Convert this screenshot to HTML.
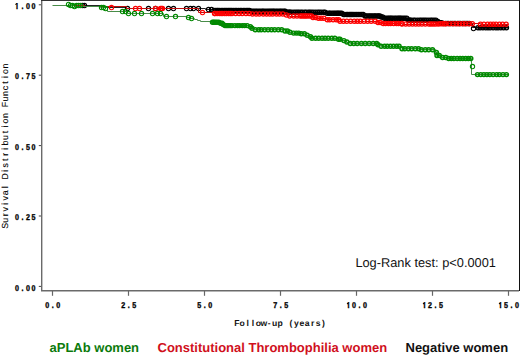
<!DOCTYPE html>
<html><head><meta charset="utf-8"><style>
html,body{margin:0;padding:0;background:#fff;}
body{width:520px;height:355px;overflow:hidden;position:relative;}
svg{position:absolute;left:0;top:0;text-rendering:geometricPrecision;}
.tk{font-family:"Liberation Sans",sans-serif;font-weight:bold;font-size:8.4px;fill:#000;stroke:#000;stroke-width:0.35px;}
.ti{font-family:"Liberation Sans",sans-serif;font-weight:bold;font-size:8.6px;fill:#111;}
.ti2{font-family:"Liberation Sans",sans-serif;font-weight:normal;font-size:8.8px;fill:#000;stroke:#000;stroke-width:0.1px;}
.lg{font-family:"Liberation Sans",sans-serif;font-weight:bold;font-size:13px;}
.lr{font-family:"Liberation Sans",sans-serif;font-size:12.8px;fill:#111;}
</style></head><body>
<svg width="520" height="355" viewBox="0 0 520 355">
<path d="M41.7,0V290.7H519" stroke="#6a6a6a" stroke-width="1.4" fill="none"/><path d="M41,0.5H519.5" stroke="#333" stroke-width="1" fill="none"/><path d="M519.5,0V291" stroke="#111" stroke-width="1" fill="none"/><path d="M38.8,4.80H41" stroke="#444" stroke-width="1"/><text class="tk" x="20.00 26.47 32.94 39.41" y="9.00" text-anchor="middle" transform="scale(0.85,1)">I.00</text><path d="M16.90,3.40l-1.4,1.2" stroke="#000" stroke-width="1.1" fill="none"/><path d="M38.8,75.20H41" stroke="#444" stroke-width="1"/><text class="tk" x="20.00 26.47 32.94 39.41" y="79.40" text-anchor="middle" transform="scale(0.85,1)">0.75</text><path d="M38.8,145.60H41" stroke="#444" stroke-width="1"/><text class="tk" x="20.00 26.47 32.94 39.41" y="149.80" text-anchor="middle" transform="scale(0.85,1)">0.50</text><path d="M38.8,216.00H41" stroke="#444" stroke-width="1"/><text class="tk" x="20.00 26.47 32.94 39.41" y="220.20" text-anchor="middle" transform="scale(0.85,1)">0.25</text><path d="M38.8,286.40H41" stroke="#444" stroke-width="1"/><text class="tk" x="20.00 26.47 32.94 39.41" y="290.60" text-anchor="middle" transform="scale(0.85,1)">0.00</text><path d="M52.5,291V295.8" stroke="#666" stroke-width="1.2"/><text class="tk" x="55.65 62.12 68.59" y="308.40" text-anchor="middle" transform="scale(0.85,1)">0.0</text><path d="M128.5,291V295.8" stroke="#666" stroke-width="1.2"/><text class="tk" x="145.06 151.53 158.00" y="308.40" text-anchor="middle" transform="scale(0.85,1)">2.5</text><path d="M204.5,291V295.8" stroke="#666" stroke-width="1.2"/><text class="tk" x="234.47 240.94 247.41" y="308.40" text-anchor="middle" transform="scale(0.85,1)">5.0</text><path d="M280.5,291V295.8" stroke="#666" stroke-width="1.2"/><text class="tk" x="323.88 330.35 336.82" y="308.40" text-anchor="middle" transform="scale(0.85,1)">7.5</text><path d="M356.5,291V295.8" stroke="#666" stroke-width="1.2"/><text class="tk" x="410.06 416.53 423.00 429.47" y="308.40" text-anchor="middle" transform="scale(0.85,1)">I0.0</text><path d="M348.45,302.80l-1.4,1.2" stroke="#000" stroke-width="1.1" fill="none"/><path d="M432.5,291V295.8" stroke="#666" stroke-width="1.2"/><text class="tk" x="499.47 505.94 512.41 518.88" y="308.40" text-anchor="middle" transform="scale(0.85,1)">I2.5</text><path d="M424.45,302.80l-1.4,1.2" stroke="#000" stroke-width="1.1" fill="none"/><path d="M508.5,291V295.8" stroke="#666" stroke-width="1.2"/><text class="tk" x="588.88 595.35 601.82 608.29" y="308.40" text-anchor="middle" transform="scale(0.85,1)">I5.0</text><path d="M500.45,302.80l-1.4,1.2" stroke="#000" stroke-width="1.1" fill="none"/><text class="ti" x="236.75 242.17 247.59 253.01 258.43 263.85 269.27 274.69 280.11 285.53 290.95 296.37 301.79 307.21 312.63 318.05 323.47" y="325.60" text-anchor="middle">Follow-up (years)</text><g transform="rotate(-90)"><text class="ti2" x="-225.80 -220.29 -214.78 -209.27 -203.76 -198.25 -192.74 -187.23 -181.72 -176.21 -170.70 -165.19 -159.68 -154.17 -148.66 -143.15 -137.64 -132.13 -126.62 -121.11 -115.60 -110.09 -104.58 -99.07 -93.56 -88.05 -82.54 -77.03 -71.52 -66.01" y="7.80" text-anchor="middle">Survival Distribution Function</text></g>
<defs><filter id="bl" x="-5%" y="-50%" width="110%" height="200%"><feGaussianBlur stdDeviation="0.35"/></filter></defs><g filter="url(#bl)"><g stroke="#000" fill="none" stroke-width="1.3"><path d="M66.5,5.5H84.5V5.5H102.5V7.5H126.5V8.5H140.5V8.5H165.5V8.5H205.5V9.5H213.5V10.5H250.5V11.5H286.5V12.5H326.5V13.5H342.5V14.5H364.5V15.5H380.5V16.5H383.5V18.5H407.5V20.5H436.5V21.5H439.5V22.5H442.5V23.5H472.5V27.5H508.5" stroke="#222" stroke-width="1"/><g stroke-width="1.05"><circle cx="82.5" cy="5.5" r="2.15"/><circle cx="84.5" cy="5.5" r="2.15"/><circle cx="127.5" cy="8.5" r="2.15"/><circle cx="148.5" cy="8.5" r="2.15"/><circle cx="155.5" cy="8.5" r="2.15"/><circle cx="168.5" cy="8.5" r="2.15"/><circle cx="173.5" cy="8.5" r="2.15"/><circle cx="186.5" cy="8.5" r="2.15"/><circle cx="190.5" cy="8.5" r="2.15"/><circle cx="193.5" cy="8.5" r="2.15"/><circle cx="198.5" cy="8.5" r="2.15"/><circle cx="208.5" cy="9.5" r="2.15"/><circle cx="211.5" cy="9.5" r="2.15"/><circle cx="473.5" cy="28.5" r="2.15"/></g><g fill="#000" fill-opacity="0.3" stroke-width="1.3"><circle cx="214.0" cy="10.55" r="2.1"/><circle cx="215.6" cy="10.55" r="2.1"/><circle cx="217.0" cy="10.55" r="2.1"/><circle cx="218.1" cy="10.55" r="2.1"/><circle cx="219.5" cy="10.55" r="2.1"/><circle cx="221.2" cy="10.55" r="2.1"/><circle cx="222.7" cy="10.55" r="2.1"/><circle cx="224.2" cy="10.55" r="2.1"/><circle cx="225.5" cy="10.55" r="2.1"/><circle cx="226.9" cy="10.55" r="2.1"/><circle cx="228.3" cy="10.55" r="2.1"/><circle cx="229.5" cy="10.55" r="2.1"/><circle cx="230.8" cy="10.55" r="2.1"/><circle cx="232.0" cy="10.55" r="2.1"/><circle cx="233.8" cy="10.55" r="2.1"/><circle cx="235.3" cy="10.55" r="2.1"/><circle cx="236.8" cy="10.55" r="2.1"/><circle cx="238.5" cy="10.55" r="2.1"/><circle cx="240.2" cy="10.55" r="2.1"/><circle cx="241.5" cy="10.55" r="2.1"/><circle cx="243.3" cy="10.55" r="2.1"/><circle cx="244.9" cy="10.55" r="2.1"/><circle cx="246.7" cy="10.55" r="2.1"/><circle cx="248.0" cy="10.55" r="2.1"/><circle cx="249.4" cy="10.55" r="2.1"/><circle cx="250.6" cy="11.35" r="2.1"/><circle cx="252.3" cy="11.35" r="2.1"/><circle cx="253.9" cy="11.35" r="2.1"/><circle cx="255.6" cy="11.35" r="2.1"/><circle cx="257.1" cy="11.35" r="2.1"/><circle cx="258.9" cy="11.35" r="2.1"/><circle cx="260.6" cy="11.35" r="2.1"/><circle cx="262.3" cy="11.35" r="2.1"/><circle cx="263.4" cy="11.35" r="2.1"/><circle cx="265.2" cy="11.35" r="2.1"/><circle cx="267.0" cy="11.35" r="2.1"/><circle cx="268.7" cy="11.35" r="2.1"/><circle cx="270.2" cy="11.35" r="2.1"/><circle cx="271.7" cy="11.35" r="2.1"/><circle cx="273.1" cy="11.35" r="2.1"/><circle cx="274.3" cy="11.35" r="2.1"/><circle cx="276.1" cy="11.35" r="2.1"/><circle cx="277.7" cy="11.35" r="2.1"/><circle cx="279.5" cy="11.35" r="2.1"/><circle cx="280.8" cy="11.35" r="2.1"/><circle cx="282.3" cy="11.35" r="2.1"/><circle cx="284.0" cy="11.35" r="2.1"/><circle cx="285.2" cy="11.35" r="2.1"/><circle cx="286.8" cy="12.25" r="2.1"/><circle cx="288.2" cy="12.25" r="2.1"/><circle cx="289.5" cy="12.25" r="2.1"/><circle cx="290.0" cy="12.25" r="2.1"/><circle cx="291.7" cy="12.25" r="2.1"/><circle cx="293.8" cy="12.25" r="2.1"/><circle cx="295.6" cy="12.25" r="2.1"/><circle cx="297.3" cy="12.25" r="2.1"/><circle cx="298.9" cy="12.25" r="2.1"/><circle cx="300.8" cy="12.25" r="2.1"/><circle cx="302.4" cy="12.25" r="2.1"/><circle cx="304.7" cy="12.25" r="2.1"/><circle cx="306.2" cy="12.25" r="2.1"/><circle cx="308.4" cy="12.25" r="2.1"/><circle cx="309.9" cy="12.25" r="2.1"/><circle cx="311.6" cy="12.25" r="2.1"/><circle cx="313.5" cy="12.25" r="2.1"/><circle cx="315.7" cy="12.25" r="2.1"/><circle cx="317.8" cy="12.25" r="2.1"/><circle cx="319.4" cy="12.25" r="2.1"/><circle cx="321.3" cy="12.25" r="2.1"/><circle cx="323.5" cy="12.25" r="2.1"/><circle cx="325.0" cy="12.25" r="2.1"/><circle cx="327.1" cy="13.35" r="2.1"/><circle cx="329.1" cy="13.35" r="2.1"/><circle cx="330.0" cy="13.35" r="2.1"/><circle cx="331.8" cy="13.35" r="2.1"/><circle cx="333.4" cy="13.35" r="2.1"/><circle cx="334.9" cy="13.35" r="2.1"/><circle cx="336.4" cy="13.35" r="2.1"/><circle cx="337.7" cy="13.35" r="2.1"/><circle cx="338.8" cy="13.35" r="2.1"/><circle cx="340.2" cy="13.35" r="2.1"/><circle cx="341.7" cy="13.35" r="2.1"/><circle cx="343.5" cy="14.60" r="2.1"/><circle cx="344.8" cy="14.60" r="2.1"/><circle cx="346.7" cy="14.60" r="2.1"/><circle cx="347.9" cy="14.60" r="2.1"/><circle cx="349.5" cy="14.60" r="2.1"/><circle cx="350.7" cy="14.60" r="2.1"/><circle cx="351.9" cy="14.60" r="2.1"/><circle cx="353.2" cy="14.60" r="2.1"/><circle cx="355.0" cy="14.60" r="2.1"/><circle cx="356.7" cy="14.60" r="2.1"/><circle cx="358.2" cy="14.60" r="2.1"/><circle cx="360.0" cy="14.60" r="2.1"/><circle cx="361.8" cy="14.60" r="2.1"/><circle cx="363.2" cy="14.60" r="2.1"/><circle cx="365.0" cy="15.90" r="2.1"/><circle cx="366.3" cy="15.90" r="2.1"/><circle cx="368.0" cy="15.90" r="2.1"/><circle cx="369.7" cy="15.90" r="2.1"/><circle cx="371.1" cy="15.90" r="2.1"/><circle cx="372.8" cy="15.90" r="2.1"/><circle cx="374.4" cy="15.90" r="2.1"/><circle cx="375.6" cy="15.90" r="2.1"/><circle cx="377.3" cy="15.90" r="2.1"/><circle cx="378.6" cy="15.90" r="2.1"/><circle cx="379.9" cy="15.90" r="2.1"/><circle cx="381.2" cy="16.90" r="2.1"/><circle cx="382.6" cy="16.90" r="2.1"/><circle cx="384.4" cy="18.30" r="2.1"/><circle cx="385.9" cy="18.30" r="2.1"/><circle cx="387.6" cy="18.30" r="2.1"/><circle cx="388.9" cy="18.30" r="2.1"/><circle cx="390.2" cy="18.30" r="2.1"/><circle cx="391.3" cy="18.30" r="2.1"/><circle cx="392.8" cy="18.30" r="2.1"/><circle cx="394.6" cy="18.30" r="2.1"/><circle cx="396.1" cy="18.30" r="2.1"/><circle cx="397.8" cy="18.30" r="2.1"/><circle cx="399.0" cy="18.30" r="2.1"/><circle cx="400.2" cy="18.30" r="2.1"/><circle cx="401.5" cy="18.30" r="2.1"/><circle cx="403.3" cy="18.30" r="2.1"/><circle cx="405.0" cy="18.30" r="2.1"/><circle cx="406.8" cy="18.30" r="2.1"/><circle cx="408.5" cy="20.20" r="2.1"/><circle cx="409.8" cy="20.20" r="2.1"/><circle cx="410.0" cy="20.20" r="2.1"/><circle cx="411.4" cy="20.20" r="2.1"/><circle cx="413.6" cy="20.20" r="2.1"/><circle cx="415.1" cy="20.20" r="2.1"/><circle cx="417.4" cy="20.20" r="2.1"/><circle cx="419.6" cy="20.20" r="2.1"/><circle cx="421.2" cy="20.20" r="2.1"/><circle cx="423.0" cy="20.20" r="2.1"/><circle cx="424.7" cy="20.20" r="2.1"/><circle cx="426.4" cy="20.20" r="2.1"/><circle cx="428.5" cy="20.20" r="2.1"/><circle cx="430.6" cy="20.20" r="2.1"/><circle cx="432.1" cy="20.20" r="2.1"/><circle cx="434.0" cy="20.20" r="2.1"/><circle cx="435.9" cy="20.20" r="2.1"/><circle cx="437.8" cy="21.50" r="2.1"/><circle cx="439.3" cy="22.80" r="2.1"/><circle cx="440.0" cy="22.80" r="2.1"/><circle cx="441.5" cy="22.80" r="2.1"/><circle cx="443.2" cy="23.60" r="2.1"/><circle cx="445.3" cy="23.60" r="2.1"/><circle cx="447.1" cy="23.60" r="2.1"/><circle cx="448.6" cy="23.60" r="2.1"/><circle cx="450.6" cy="23.60" r="2.1"/><circle cx="452.2" cy="23.60" r="2.1"/><circle cx="454.1" cy="23.60" r="2.1"/><circle cx="455.6" cy="23.60" r="2.1"/><circle cx="457.7" cy="23.60" r="2.1"/><circle cx="459.1" cy="23.60" r="2.1"/><circle cx="460.7" cy="23.60" r="2.1"/><circle cx="462.9" cy="23.60" r="2.1"/><circle cx="464.3" cy="23.60" r="2.1"/><circle cx="466.0" cy="23.60" r="2.1"/><circle cx="467.5" cy="23.60" r="2.1"/><circle cx="469.2" cy="23.60" r="2.1"/><circle cx="478.0" cy="27.80" r="2.1"/><circle cx="480.2" cy="27.80" r="2.1"/><circle cx="482.9" cy="27.80" r="2.1"/><circle cx="485.7" cy="27.80" r="2.1"/><circle cx="488.0" cy="27.80" r="2.1"/><circle cx="490.2" cy="27.80" r="2.1"/><circle cx="493.1" cy="27.80" r="2.1"/><circle cx="495.9" cy="27.80" r="2.1"/><circle cx="498.1" cy="27.80" r="2.1"/><circle cx="500.8" cy="27.80" r="2.1"/><circle cx="503.6" cy="27.80" r="2.1"/><circle cx="506.4" cy="27.80" r="2.1"/></g></g><g stroke="#f00" fill="none" stroke-width="1.3"><path d="M66.5,5.5H84.5V6.5H126.5V8.5H160.5V8.5H198.5V12.5H214.5V13.5H250.5V14.5H286.5V15.5H289.5V16.5H313.5V17.5H316.5V18.5H326.5V19.5H340.5V21.5H364.5V21.5H378.5V22.5H381.5V23.5H402.5V24.5H440.5V23.5H474.5V23.5H480.5V24.5H508.5" stroke="#c01010" stroke-width="1"/><g stroke-width="1.05"><circle cx="111.5" cy="7.5" r="2.15"/><circle cx="135.5" cy="8.5" r="2.15"/><circle cx="139.5" cy="8.5" r="2.15"/><circle cx="155.5" cy="8.5" r="2.15"/><circle cx="160.5" cy="8.5" r="2.15"/><circle cx="161.5" cy="8.5" r="2.15"/><circle cx="162.5" cy="8.5" r="2.15"/><circle cx="202.5" cy="12.5" r="2.15"/><circle cx="214.5" cy="13.5" r="2.15"/></g><g fill="#f00" fill-opacity="0.12" stroke-width="1.3"><circle cx="215.0" cy="13.50" r="2.1"/><circle cx="217.1" cy="13.50" r="2.1"/><circle cx="219.3" cy="13.50" r="2.1"/><circle cx="221.1" cy="13.50" r="2.1"/><circle cx="222.7" cy="13.50" r="2.1"/><circle cx="224.8" cy="13.50" r="2.1"/><circle cx="226.4" cy="13.50" r="2.1"/><circle cx="228.5" cy="13.50" r="2.1"/><circle cx="230.2" cy="13.50" r="2.1"/><circle cx="232.0" cy="13.50" r="2.1"/><circle cx="235.6" cy="13.50" r="2.1"/><circle cx="239.1" cy="13.50" r="2.1"/><circle cx="242.2" cy="13.50" r="2.1"/><circle cx="246.0" cy="13.50" r="2.1"/><circle cx="249.2" cy="13.50" r="2.1"/><circle cx="252.4" cy="14.00" r="2.1"/><circle cx="256.1" cy="14.00" r="2.1"/><circle cx="259.3" cy="14.00" r="2.1"/><circle cx="263.2" cy="14.00" r="2.1"/><circle cx="266.6" cy="14.00" r="2.1"/><circle cx="269.8" cy="14.00" r="2.1"/><circle cx="272.7" cy="14.00" r="2.1"/><circle cx="276.4" cy="14.00" r="2.1"/><circle cx="279.4" cy="14.00" r="2.1"/><circle cx="282.8" cy="14.00" r="2.1"/><circle cx="286.4" cy="15.00" r="2.1"/><circle cx="289.7" cy="16.00" r="2.1"/><circle cx="293.7" cy="16.00" r="2.1"/><circle cx="297.0" cy="16.00" r="2.1"/><circle cx="300.2" cy="16.00" r="2.1"/><circle cx="302.0" cy="16.00" r="2.1"/><circle cx="303.9" cy="16.00" r="2.1"/><circle cx="305.5" cy="16.00" r="2.1"/><circle cx="307.2" cy="16.00" r="2.1"/><circle cx="309.4" cy="16.00" r="2.1"/><circle cx="311.5" cy="16.00" r="2.1"/><circle cx="313.0" cy="17.40" r="2.1"/><circle cx="315.6" cy="17.40" r="2.1"/><circle cx="318.4" cy="18.30" r="2.1"/><circle cx="321.1" cy="18.30" r="2.1"/><circle cx="323.8" cy="18.30" r="2.1"/><circle cx="327.3" cy="19.85" r="2.1"/><circle cx="329.7" cy="19.85" r="2.1"/><circle cx="333.1" cy="19.85" r="2.1"/><circle cx="336.3" cy="19.85" r="2.1"/><circle cx="338.7" cy="19.85" r="2.1"/><circle cx="340.0" cy="21.20" r="2.1"/><circle cx="343.4" cy="21.20" r="2.1"/><circle cx="346.8" cy="21.20" r="2.1"/><circle cx="350.6" cy="21.20" r="2.1"/><circle cx="354.3" cy="21.20" r="2.1"/><circle cx="357.3" cy="21.20" r="2.1"/><circle cx="360.3" cy="21.20" r="2.1"/><circle cx="364.0" cy="21.30" r="2.1"/><circle cx="367.6" cy="21.30" r="2.1"/><circle cx="371.2" cy="21.30" r="2.1"/><circle cx="375.2" cy="21.30" r="2.1"/><circle cx="378.0" cy="22.40" r="2.1"/><circle cx="380.2" cy="22.40" r="2.1"/><circle cx="383.2" cy="23.60" r="2.1"/><circle cx="385.5" cy="23.60" r="2.1"/><circle cx="388.4" cy="23.60" r="2.1"/><circle cx="390.7" cy="23.60" r="2.1"/><circle cx="393.7" cy="23.60" r="2.1"/><circle cx="396.5" cy="23.60" r="2.1"/><circle cx="398.5" cy="23.60" r="2.1"/><circle cx="401.7" cy="23.60" r="2.1"/><circle cx="402.0" cy="24.00" r="2.1"/><circle cx="405.7" cy="24.00" r="2.1"/><circle cx="409.1" cy="24.00" r="2.1"/><circle cx="412.4" cy="24.00" r="2.1"/><circle cx="415.7" cy="24.00" r="2.1"/><circle cx="418.8" cy="24.00" r="2.1"/><circle cx="421.9" cy="24.00" r="2.1"/><circle cx="425.3" cy="24.00" r="2.1"/><circle cx="428.9" cy="24.00" r="2.1"/><circle cx="431.0" cy="24.00" r="2.1"/><circle cx="433.2" cy="24.00" r="2.1"/><circle cx="435.5" cy="24.00" r="2.1"/><circle cx="438.2" cy="24.00" r="2.1"/><circle cx="440.4" cy="23.70" r="2.1"/><circle cx="442.3" cy="23.70" r="2.1"/><circle cx="444.3" cy="23.70" r="2.1"/><circle cx="446.0" cy="23.70" r="2.1"/><circle cx="449.5" cy="23.70" r="2.1"/><circle cx="453.0" cy="23.70" r="2.1"/><circle cx="456.4" cy="23.70" r="2.1"/><circle cx="459.4" cy="23.70" r="2.1"/><circle cx="462.6" cy="23.70" r="2.1"/><circle cx="465.5" cy="23.70" r="2.1"/><circle cx="469.1" cy="23.70" r="2.1"/><circle cx="472.3" cy="23.70" r="2.1"/><circle cx="480.5" cy="24.30" r="2.1"/><circle cx="483.9" cy="24.30" r="2.1"/><circle cx="487.6" cy="24.30" r="2.1"/><circle cx="490.5" cy="24.30" r="2.1"/><circle cx="493.3" cy="24.30" r="2.1"/><circle cx="496.1" cy="24.30" r="2.1"/><circle cx="499.4" cy="24.30" r="2.1"/><circle cx="502.6" cy="24.30" r="2.1"/><circle cx="506.1" cy="24.30" r="2.1"/></g></g><g stroke="#008a00" fill="none" stroke-width="1.3"><path d="M52.5,5.5H70.5V5.5H74.5V6.5H100.5V7.5H107.5V11.5H127.5V13.5H159.5V13.5H163.5V16.5H175.5V16.5H186.5V17.5H190.5V18.5H194.5V19.5H197.5V20.5H200.5V21.5H212.5V22.5H220.5V23.5H222.5V24.5H224.5V25.5H248.5V26.5H251.5V28.5H254.5V29.5H285.5V31.5H288.5V32.5H292.5V33.5H300.5V33.5H305.5V35.5H308.5V36.5H311.5V38.5H338.5V39.5H342.5V40.5H346.5V42.5H350.5V43.5H378.5V44.5H381.5V46.5H400.5V47.5H402.5V48.5H420.5V49.5H435.5V52.5H437.5V55.5H441.5V57.5H446.5V58.5H471.5V74.5H508.5" stroke="#4a8c4a" stroke-width="1"/><g stroke-width="1.05"><circle cx="68.5" cy="4.5" r="2.15"/><circle cx="70.5" cy="5.5" r="2.15"/><circle cx="72.5" cy="5.5" r="2.15"/><circle cx="74.5" cy="6.5" r="2.15"/><circle cx="76.5" cy="5.5" r="2.15"/><circle cx="78.5" cy="5.5" r="2.15"/><circle cx="80.5" cy="5.5" r="2.15"/><circle cx="101.5" cy="7.5" r="2.15"/><circle cx="103.5" cy="7.5" r="2.15"/><circle cx="105.5" cy="8.5" r="2.15"/><circle cx="122.5" cy="11.5" r="2.15"/><circle cx="125.5" cy="11.5" r="2.15"/><circle cx="128.5" cy="13.5" r="2.15"/><circle cx="134.5" cy="13.5" r="2.15"/><circle cx="141.5" cy="13.5" r="2.15"/><circle cx="152.5" cy="13.5" r="2.15"/><circle cx="157.5" cy="13.5" r="2.15"/><circle cx="160.5" cy="13.5" r="2.15"/><circle cx="166.5" cy="16.5" r="2.15"/><circle cx="175.5" cy="16.5" r="2.15"/><circle cx="188.5" cy="17.5" r="2.15"/><circle cx="191.5" cy="18.5" r="2.15"/><circle cx="472.5" cy="66.5" r="2.15"/></g><g fill="#008a00" fill-opacity="0.3" stroke-width="1.45"><circle cx="212.5" cy="22.30" r="2.0"/><circle cx="213.8" cy="22.30" r="2.0"/><circle cx="215.2" cy="22.30" r="2.0"/><circle cx="216.9" cy="22.30" r="2.0"/><circle cx="218.8" cy="22.30" r="2.0"/><circle cx="220.5" cy="23.20" r="2.0"/><circle cx="222.0" cy="23.20" r="2.0"/><circle cx="223.2" cy="24.40" r="2.0"/><circle cx="225.0" cy="25.60" r="2.0"/><circle cx="226.3" cy="25.60" r="2.0"/><circle cx="227.6" cy="25.60" r="2.0"/><circle cx="229.0" cy="25.60" r="2.0"/><circle cx="230.5" cy="25.60" r="2.0"/><circle cx="232.0" cy="25.60" r="2.0"/><circle cx="234.9" cy="25.60" r="2.0"/><circle cx="237.5" cy="25.60" r="2.0"/><circle cx="239.6" cy="25.60" r="2.0"/><circle cx="242.3" cy="25.60" r="2.0"/><circle cx="244.6" cy="25.60" r="2.0"/><circle cx="247.2" cy="25.60" r="2.0"/><circle cx="250.4" cy="26.80" r="2.0"/><circle cx="252.0" cy="28.20" r="2.0"/><circle cx="255.3" cy="29.80" r="2.0"/><circle cx="258.7" cy="29.80" r="2.0"/><circle cx="261.2" cy="29.80" r="2.0"/><circle cx="264.7" cy="29.80" r="2.0"/><circle cx="268.1" cy="29.80" r="2.0"/><circle cx="271.5" cy="29.80" r="2.0"/><circle cx="274.7" cy="29.80" r="2.0"/><circle cx="278.3" cy="29.80" r="2.0"/><circle cx="281.7" cy="29.80" r="2.0"/><circle cx="285.0" cy="31.00" r="2.0"/><circle cx="287.5" cy="31.00" r="2.0"/><circle cx="290.0" cy="32.30" r="2.0"/><circle cx="293.6" cy="33.10" r="2.0"/><circle cx="296.3" cy="33.10" r="2.0"/><circle cx="298.8" cy="33.10" r="2.0"/><circle cx="301.3" cy="33.80" r="2.0"/><circle cx="304.4" cy="33.80" r="2.0"/><circle cx="307.2" cy="35.20" r="2.0"/><circle cx="310.5" cy="36.80" r="2.0"/><circle cx="312.0" cy="38.20" r="2.0"/><circle cx="315.6" cy="38.20" r="2.0"/><circle cx="318.7" cy="38.20" r="2.0"/><circle cx="322.1" cy="38.20" r="2.0"/><circle cx="325.1" cy="38.20" r="2.0"/><circle cx="328.2" cy="38.20" r="2.0"/><circle cx="331.8" cy="38.20" r="2.0"/><circle cx="334.8" cy="38.20" r="2.0"/><circle cx="338.5" cy="39.30" r="2.0"/><circle cx="340.0" cy="39.30" r="2.0"/><circle cx="343.9" cy="40.60" r="2.0"/><circle cx="346.9" cy="42.00" r="2.0"/><circle cx="350.3" cy="43.50" r="2.0"/><circle cx="353.8" cy="43.50" r="2.0"/><circle cx="357.2" cy="43.50" r="2.0"/><circle cx="361.4" cy="43.50" r="2.0"/><circle cx="365.2" cy="43.50" r="2.0"/><circle cx="369.2" cy="43.50" r="2.0"/><circle cx="373.2" cy="43.50" r="2.0"/><circle cx="376.7" cy="43.50" r="2.0"/><circle cx="378.0" cy="44.80" r="2.0"/><circle cx="381.1" cy="46.30" r="2.0"/><circle cx="384.6" cy="46.30" r="2.0"/><circle cx="387.3" cy="46.30" r="2.0"/><circle cx="390.5" cy="46.30" r="2.0"/><circle cx="393.5" cy="46.30" r="2.0"/><circle cx="396.6" cy="46.30" r="2.0"/><circle cx="399.1" cy="46.30" r="2.0"/><circle cx="402.0" cy="48.80" r="2.0"/><circle cx="404.8" cy="48.80" r="2.0"/><circle cx="408.4" cy="48.80" r="2.0"/><circle cx="411.6" cy="48.80" r="2.0"/><circle cx="415.3" cy="48.80" r="2.0"/><circle cx="418.6" cy="48.80" r="2.0"/><circle cx="421.4" cy="49.70" r="2.0"/><circle cx="425.3" cy="49.70" r="2.0"/><circle cx="428.7" cy="49.70" r="2.0"/><circle cx="432.5" cy="49.70" r="2.0"/><circle cx="436.4" cy="52.50" r="2.0"/><circle cx="437.0" cy="55.40" r="2.0"/><circle cx="439.3" cy="55.40" r="2.0"/><circle cx="442.6" cy="57.50" r="2.0"/><circle cx="445.8" cy="57.50" r="2.0"/><circle cx="448.7" cy="58.50" r="2.0"/><circle cx="451.3" cy="58.50" r="2.0"/><circle cx="453.9" cy="58.50" r="2.0"/><circle cx="457.2" cy="58.50" r="2.0"/><circle cx="460.1" cy="58.50" r="2.0"/><circle cx="462.8" cy="58.50" r="2.0"/><circle cx="465.7" cy="58.50" r="2.0"/><circle cx="468.3" cy="58.50" r="2.0"/><circle cx="470.8" cy="58.50" r="2.0"/><circle cx="477.5" cy="74.60" r="2.0"/><circle cx="480.8" cy="74.60" r="2.0"/><circle cx="483.9" cy="74.60" r="2.0"/><circle cx="486.9" cy="74.60" r="2.0"/><circle cx="489.8" cy="74.60" r="2.0"/><circle cx="493.1" cy="74.60" r="2.0"/><circle cx="496.7" cy="74.60" r="2.0"/><circle cx="499.4" cy="74.60" r="2.0"/><circle cx="503.0" cy="74.60" r="2.0"/><circle cx="506.4" cy="74.60" r="2.0"/></g></g></g>
<text class="lr" x="355.4" y="266.7">Log-Rank test: p&lt;0.0001</text>
<text class="lg" x="49.5" y="351.6" fill="#0b7a0b">aPLAb women</text>
<text class="lg" x="157.5" y="351.6" fill="#d0101c">Constitutional Thrombophilia women</text>
<text class="lg" x="405.5" y="351.6" fill="#111">Negative women</text>
</svg>
</body></html>
